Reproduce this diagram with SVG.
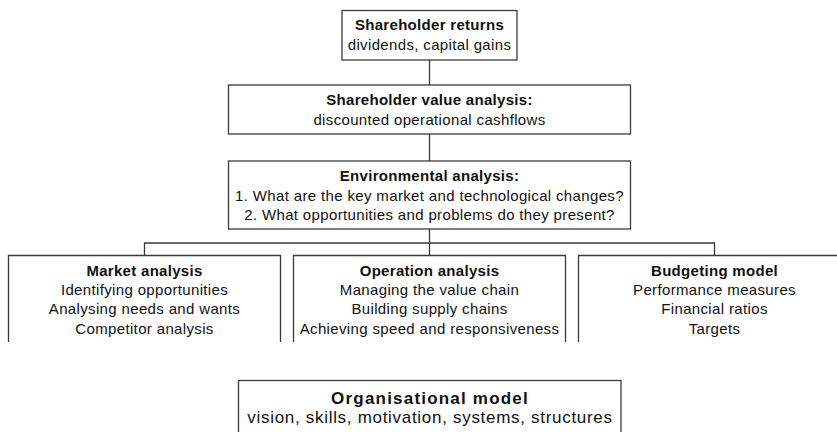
<svg xmlns="http://www.w3.org/2000/svg" width="837" height="432" viewBox="0 0 837 432">
  <style>
    .box { fill: #ffffff; stroke: #3a3a3a; stroke-width: 1.3; }
    .open { fill: none; stroke: #3a3a3a; stroke-width: 1.3; }
    .link { fill: none; stroke: #3a3a3a; stroke-width: 1.3; }
    text { font-family: "Liberation Sans", Arial, sans-serif; fill: #111111; text-anchor: middle; }
    .t { font-size: 15px; font-weight: bold; letter-spacing: 0.3px; }
    .s { font-size: 15px; letter-spacing: 0.35px; }
    .tl { font-size: 17px; font-weight: bold; letter-spacing: 1.2px; }
    .sl { font-size: 17px; letter-spacing: 0.7px; }
  </style>
  <rect width="837" height="432" fill="#ffffff"/>

  <!-- connectors -->
  <g id="connectors">
    <line class="link" x1="429.5" y1="60" x2="429.5" y2="85"/>
    <line class="link" x1="429.5" y1="134" x2="429.5" y2="161"/>
    <line class="link" x1="429.5" y1="229" x2="429.5" y2="255.5"/>
    <polyline class="link" points="144.5,255.5 144.5,243 714.5,243 714.5,255.5"/>
  </g>

  <g id="shareholder-returns">
    <rect class="box" x="342" y="10.5" width="175" height="49.5"/>
    <text class="t" x="429.5" y="29.5">Shareholder returns</text>
    <text class="s" x="429.5" y="49.5">dividends, capital gains</text>
  </g>

  <g id="shareholder-value">
    <rect class="box" x="228.5" y="85" width="402" height="49"/>
    <text class="t" x="429.5" y="104.5">Shareholder value analysis:</text>
    <text class="s" x="429.5" y="125">discounted operational cashflows</text>
  </g>

  <g id="environmental">
    <rect class="box" x="228.5" y="161" width="402" height="68"/>
    <text class="t" x="429.5" y="181">Environmental analysis:</text>
    <text class="s" x="429.5" y="200.5">1. What are the key market and technological changes?</text>
    <text class="s" x="429.5" y="220">2. What opportunities and problems do they present?</text>
  </g>

  <g id="market-analysis">
    <path class="open" d="M8.5,342 V255.5 H280.5 V342"/>
    <text class="t" x="144.5" y="275.5">Market analysis</text>
    <text class="s" x="144.5" y="295">Identifying opportunities</text>
    <text class="s" x="144.5" y="314">Analysing needs and wants</text>
    <text class="s" x="144.5" y="333.5">Competitor analysis</text>
  </g>

  <g id="operation-analysis">
    <path class="open" d="M293.5,342 V255.5 H565.5 V342"/>
    <text class="t" x="429.5" y="275.5">Operation analysis</text>
    <text class="s" x="429.5" y="295">Managing the value chain</text>
    <text class="s" x="429.5" y="314">Building supply chains</text>
    <text class="s" x="429.5" y="333.5">Achieving speed and responsiveness</text>
  </g>

  <g id="budgeting-model">
    <path class="open" d="M578.5,342 V255.5 H850.5 V342"/>
    <text class="t" x="714.5" y="275.5">Budgeting model</text>
    <text class="s" x="714.5" y="295">Performance measures</text>
    <text class="s" x="714.5" y="314">Financial ratios</text>
    <text class="s" x="714.5" y="333.5">Targets</text>
  </g>

  <g id="organisational-model">
    <rect class="box" x="238.5" y="380.5" width="382.5" height="70"/>
    <text class="tl" x="430" y="403.5">Organisational model</text>
    <text class="sl" x="430" y="423">vision, skills, motivation, systems, structures</text>
  </g>
</svg>
